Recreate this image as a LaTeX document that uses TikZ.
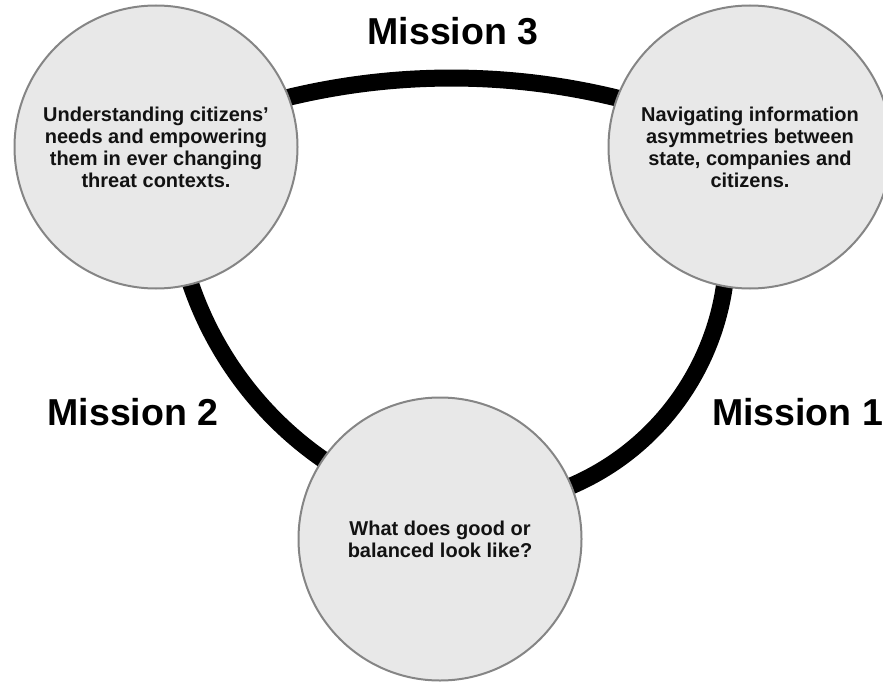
\documentclass[tikz,border=0pt]{standalone}
\usepackage{fontspec}
\setmainfont{Liberation Sans}
\definecolor{bubblefill}{HTML}{E8E8E8}
\definecolor{bordergray}{HTML}{858585}
\begin{document}
\begin{tikzpicture}[x=1pt,y=-1pt,
  bubble/.style={circle, draw=bordergray, line width=2pt, fill=bubblefill,
    minimum size=283pt, inner sep=0pt, align=center, text=black!93,
    font=\bfseries\fontsize{20}{22}\selectfont},
  ring/.style={line width=17pt, black},
  mission/.style={font=\bfseries\fontsize{37.5}{40}\selectfont, inner sep=0pt, text=black}]
\useasboundingbox (0,0) rectangle (883,682);
% centres of the three ring arcs
\coordinate (c3) at (451.5,774);
\coordinate (c2) at (523,171);
\coordinate (c1) at (469,249);
\draw[ring] ([shift={(244.9:696)}]c3) arc[start angle=244.9, end angle=295.4, radius=696];
\draw[ring] ([shift={(102.7:351)}]c2) arc[start angle=102.7, end angle=183.7, radius=351];
\draw[ring] ([shift={(-20:258)}]c1) arc[start angle=-20, end angle=95.7, radius=258];
% bubbles
\node[bubble] (L) at (156,147) {Understanding citizens’\\needs and empowering\\them in ever changing\\threat contexts.};
\node[bubble] (R) at (750,147) {Navigating information\\asymmetries between\\state, companies and\\citizens.};
\node[bubble] (B) at (440,539) {What does good or\\balanced look like?};
% labels
\node[mission, anchor=base] (m3) at (453,45) {Mission 3};
\node[mission, anchor=base] (m2) at (133,425) {Mission 2};
\node[mission, anchor=base west] (m1) at (712,425) {Mission 1};
\end{tikzpicture}
\end{document}
